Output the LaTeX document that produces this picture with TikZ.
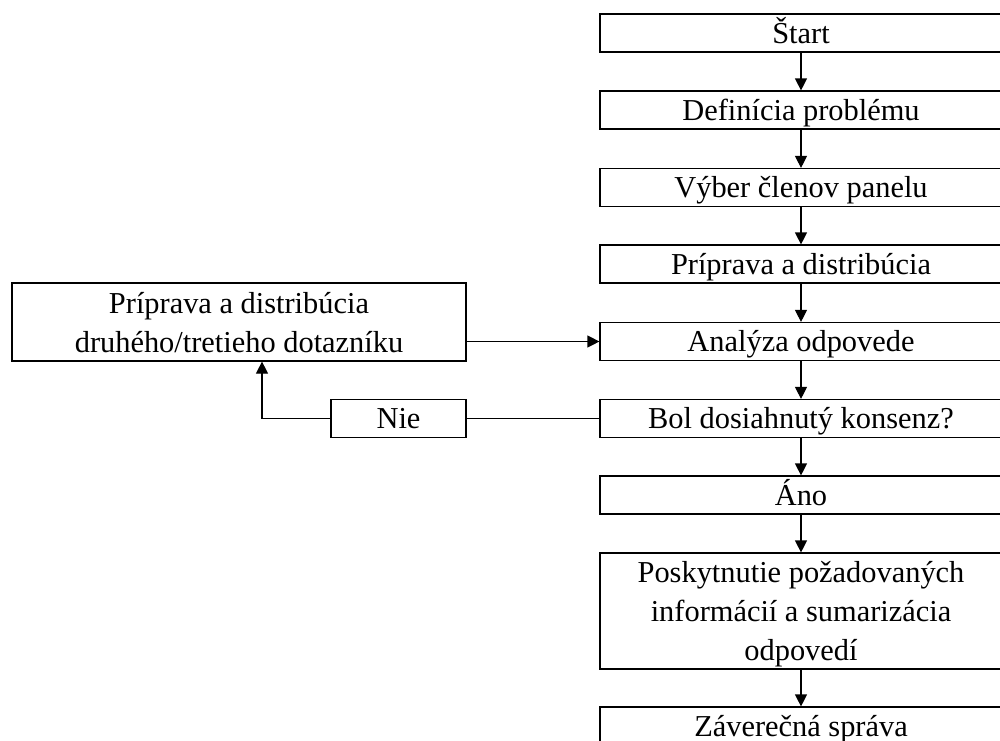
\documentclass[tikz,border=0pt]{standalone}
\usepackage{fontspec}
\setmainfont{Liberation Serif}
\usetikzlibrary{arrows.meta,calc}
\begin{document}
\begin{tikzpicture}[x=1pt,y=-1pt,
  box/.style={draw=black,line width=1.2pt,inner sep=0pt,align=center,
    font=\fontsize{30.4}{39}\selectfont,text depth=0pt},
  rbox/.style={box,minimum width=402pt,minimum height=38pt},
  one/.style={text height=20pt},
  arr/.style={line width=1.2pt,-{Triangle[width=12pt,length=12pt]}},
  ln/.style={line width=1.2pt}]
\clip (0,0) rectangle (1000,740);
\fill[white] (0,0) rectangle (1000,740);
\node[rbox,one] (start) at (801,33) {Štart};
\node[rbox,one] (def) at (801,110) {Definícia problému};
\node[rbox,one] (vyber) at (801,187.5) {Výber členov panelu};
\node[rbox,one] (prip) at (801,264) {Príprava a distribúcia};
\node[rbox,one] (ana) at (801,341.5) {Analýza odpovede};
\node[rbox,one] (bol) at (801,418.5) {Bol dosiahnutý konsenz?};
\node[rbox,one] (ano) at (801,495) {Áno};
\node[rbox,minimum height=116pt] (posk) at (801,611) {Poskytnutie požadovaných\\informácií a sumarizácia\\odpovedí};
\node[rbox,one] (zav) at (801,726) {Záverečná správa};
\node[box,minimum width=454pt,minimum height=78pt] (left) at (239,322) {Príprava a distribúcia\\druhého/tretieho dotazníku};
\node[box,one,minimum width=135pt,minimum height=38pt] (nie) at (398.5,418.5) {Nie};
\coordinate (turn) at (262,418.5);
\draw[arr] (start) -- (def);
\draw[arr] (def) -- (vyber);
\draw[arr] (vyber) -- (prip);
\draw[arr] (prip) -- (ana);
\draw[arr] (ana) -- (bol);
\draw[arr] (bol) -- (ano);
\draw[arr] (ano) -- (posk);
\draw[arr] (posk) -- (zav);
\draw[arr] (left.east |- ana.west) -- (ana.west);
\draw[ln] (bol.west) -- (nie.east);
\draw[arr] (nie.west) -- (turn) -- (turn |- left.south);
\end{tikzpicture}
\end{document}
